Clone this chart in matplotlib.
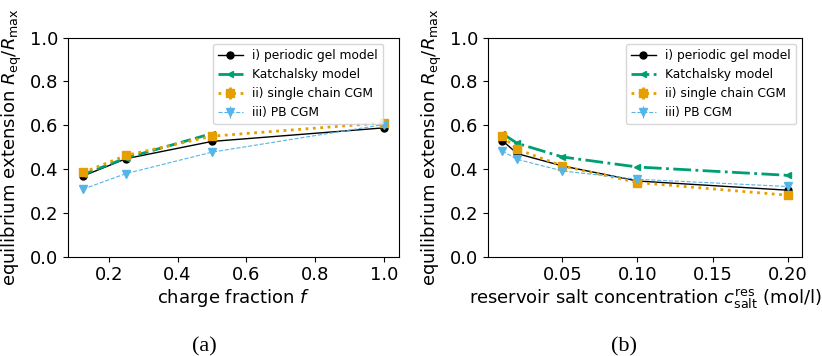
import numpy as np
import matplotlib.pyplot as plt

# (a) charge fraction
f = [0.125, 0.25, 0.5, 1.0]
gel_f = [0.368, 0.447, 0.526, 0.588]
kat_f_x = [0.125, 0.25, 0.5]
kat_f = [0.375, 0.45, 0.562]
scc_f = [0.384, 0.462, 0.55, 0.611]
scc_f_err = [0.012, 0.012, 0.012, 0.012]
pb_f = [0.308, 0.379, 0.477, 0.603]
pb_f_err = [0.01, 0.01, 0.01, 0.01]

# (b) salt concentration
c = [0.01, 0.02, 0.05, 0.1, 0.2]
gel_c = [0.530, 0.470, 0.414, 0.345, 0.303]
kat_c = [0.562, 0.517, 0.455, 0.409, 0.371]
scc_c = [0.550, 0.490, 0.414, 0.338, 0.280]
scc_c_err = [0.012, 0.012, 0.012, 0.012, 0.012]
pb_c = [0.482, 0.444, 0.391, 0.353, 0.320]
pb_c_err = [0.01, 0.01, 0.01, 0.01, 0.01]

black = 'black'
green = '#009E73'
orange = '#E69F00'
blue = '#56B4E9'

fig = plt.figure(figsize=(8.22, 3.56), dpi=100)
ax1 = fig.add_axes([68/822, 99.5/356, 331/822, 218.8/356])
ax2 = fig.add_axes([488/822, 99.5/356, 314/822, 218.8/356])

ylabel = r'equilibrium extension $R_\mathrm{eq}/R_\mathrm{max}$'

# left panel
ax1.plot(f, gel_f, '-o', color=black, lw=1, ms=5, label='i) periodic gel model')
ax1.plot(kat_f_x, kat_f, '--<', color=green, lw=2, ms=5, label='Katchalsky model')
ax1.errorbar(f, scc_f, yerr=scc_f_err, fmt='s:', color=orange, lw=2, ms=6,
             label='ii) single chain CGM')
ax1.errorbar(f, pb_f, yerr=pb_f_err, fmt='v--', color=blue, lw=0.8, ms=6,
             label='iii) PB CGM')
ax1.set_ylim(0, 1)
ax1.set_xlabel('charge fraction $f$', fontsize=13, labelpad=2)
ax1.set_ylabel(ylabel, fontsize=13)
ax1.tick_params(labelsize=13)
ax1.legend(loc='upper right', fontsize=8.8, borderaxespad=0,
           bbox_to_anchor=((383-68)/331, (256.5-44)/218.8))

# right panel
ax2.plot(c, gel_c, '-o', color=black, lw=1, ms=5, label='i) periodic gel model')
ax2.plot(c, kat_c, '-.<', color=green, lw=2, ms=5, label='Katchalsky model')
ax2.errorbar(c, scc_c, yerr=scc_c_err, fmt='s:', color=orange, lw=2, ms=6,
             label='ii) single chain CGM')
ax2.errorbar(c, pb_c, yerr=pb_c_err, fmt='v--', color=blue, lw=0.8, ms=6,
             label='iii) PB CGM')
ax2.set_ylim(0, 1)
ax2.set_xticks([0.05, 0.10, 0.15, 0.20])
ax2.set_xlabel(r'reservoir salt concentration $c_\mathrm{salt}^\mathrm{res}$ (mol/l)',
               fontsize=13, labelpad=2)
ax2.set_ylabel(ylabel, fontsize=13)
ax2.tick_params(labelsize=13)
ax2.legend(loc='upper right', fontsize=8.8, borderaxespad=0,
           bbox_to_anchor=((796-488)/314, (256.5-44)/218.8))

fig.text(204/822, 1 - 347/356, '(a)', ha='center', va='center',
         family='Liberation Serif', fontsize=16)
fig.text(624/822, 1 - 347/356, '(b)', ha='center', va='center',
         family='Liberation Serif', fontsize=16)

plt.savefig('out.png')
